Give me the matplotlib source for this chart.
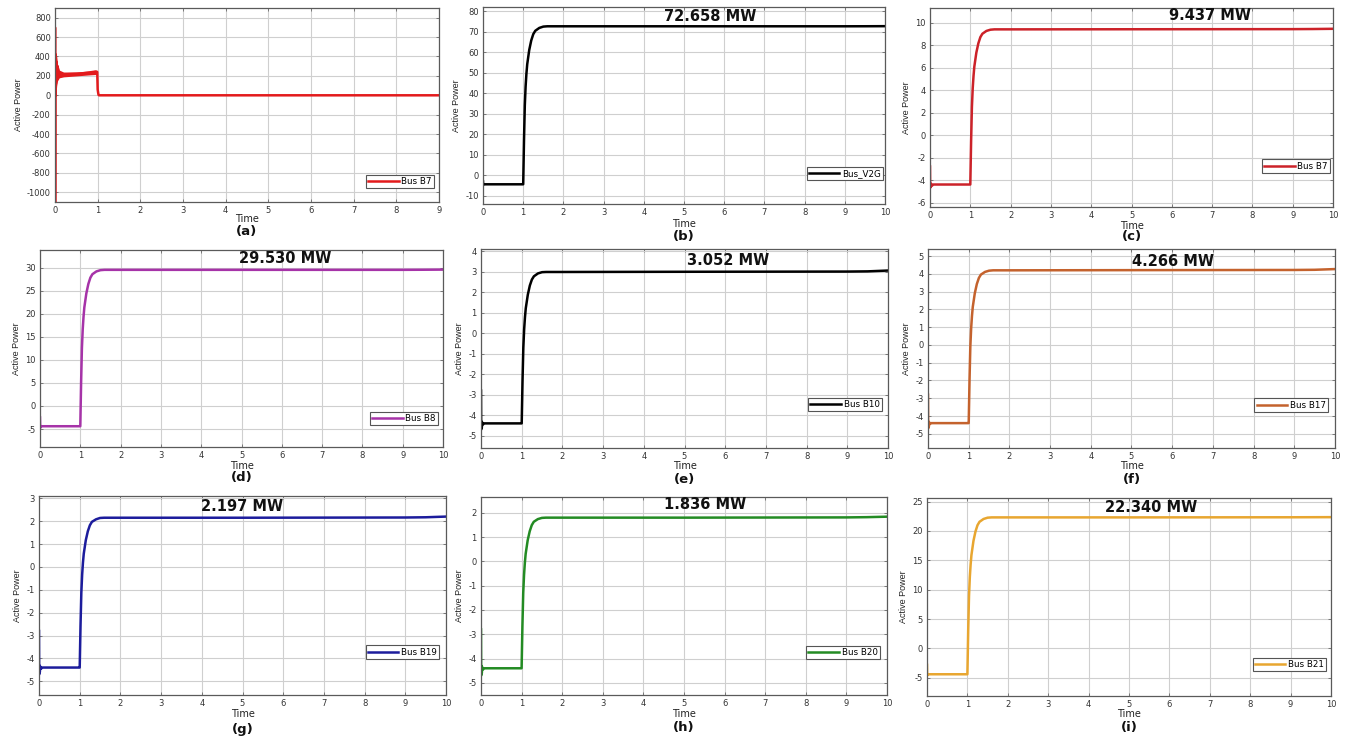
import matplotlib
matplotlib.use("Agg")
import matplotlib.pyplot as plt

plt.rcParams["axes.unicode_minus"] = False

# ---- data ----
# panel (a): Bus B7 (first case), 0..9 s
a_time = [0, 0.001, 0.003, 0.006, 0.01, 0.015, 0.02, 0.03, 0.04, 0.06, 0.1, 0.2, 0.4, 0.6,
          0.8, 0.95, 0.99, 1.0, 1.01, 1.02, 1.03, 1.05, 9.0]
a_power = [0, 700, -1100, 400, 100, 420, 120, 350, 160, 300, 200, 215, 220, 225,
           235, 245, 240, 60, 30, 5, 0, 0, 0]
# noisy band between 0 and 1 s
a_band_time = [0.02, 0.04, 0.06, 0.1, 0.2, 0.5, 0.8, 0.98]
a_band_low = [0, 100, 150, 180, 190, 200, 210, 215]
a_band_high = [420, 400, 320, 260, 240, 240, 250, 260]

# panels (b)..(i): common time grid
time = [0, 0.004, 0.01, 0.02, 0.03, 0.05, 0.08, 0.5, 0.99, 1.0, 1.02, 1.04, 1.06, 1.08, 1.1,
        1.15, 1.2, 1.25, 1.3, 1.4, 1.5, 1.6, 1.8, 2.0, 5.0, 9.0, 9.5, 10.0]

p_v2g = [-3.0, -4.5, -4.3, -4.5, -4.4, -4.4, -4.4, -4.4, -4.4, -4.4, 17.2, 34.1, 43.3, 49.5, 54.1,
         61.05, 65.7, 68.75, 70.4, 71.8, 72.45, 72.6, 72.6, 72.6, 72.6, 72.6, 72.62, 72.66]
p_b7 = [-2.8, -4.7, -4.3, -4.6, -4.35, -4.5, -4.4, -4.4, -4.4, -4.4, -0.54, 2.5, 4.16, 5.26, 6.09,
        7.33, 8.16, 8.71, 9.01, 9.26, 9.37, 9.4, 9.4, 9.4, 9.41, 9.42, 9.43, 9.45]
p_b8 = [-2.5, -4.8, -4.3, -4.5, -4.4, -4.4, -4.4, -4.4, -4.4, -4.4, 5.09, 12.55, 16.6, 19.33, 21.36,
        24.4, 26.45, 27.8, 28.55, 29.16, 29.43, 29.5, 29.5, 29.5, 29.5, 29.5, 29.52, 29.55]
p_b10 = [-2.8, -4.7, -4.3, -4.6, -4.35, -4.45, -4.4, -4.4, -4.4, -4.4, -2.33, -0.71, 0.18, 0.77, 1.21,
         1.87, 2.32, 2.61, 2.77, 2.91, 2.97, 2.98, 2.98, 2.98, 2.99, 3.0, 3.01, 3.05]
p_b17 = [-2.8, -4.7, -4.3, -4.6, -4.35, -4.45, -4.4, -4.4, -4.4, -4.4, -1.99, -0.1, 0.93, 1.62, 2.14,
         2.91, 3.43, 3.77, 3.96, 4.11, 4.18, 4.2, 4.2, 4.2, 4.21, 4.22, 4.23, 4.27]
p_b19 = [-2.8, -4.7, -4.3, -4.6, -4.35, -4.45, -4.4, -4.4, -4.4, -4.4, -2.57, -1.13, -0.34, 0.19, 0.58,
         1.17, 1.56, 1.82, 1.97, 2.08, 2.14, 2.15, 2.15, 2.15, 2.15, 2.16, 2.17, 2.2]
p_b20 = [-2.8, -4.7, -4.3, -4.6, -4.35, -4.45, -4.4, -4.4, -4.4, -4.4, -2.66, -1.3, -0.56, -0.06, 0.31,
         0.87, 1.24, 1.49, 1.63, 1.74, 1.79, 1.8, 1.8, 1.8, 1.8, 1.81, 1.82, 1.84]
p_b21 = [-2.8, -4.6, -4.4, -4.5, -4.4, -4.4, -4.4, -4.4, -4.4, -4.4, 3.08, 8.95, 12.15, 14.29, 15.89,
         18.3, 19.9, 20.97, 21.55, 22.03, 22.25, 22.3, 22.3, 22.3, 22.3, 22.32, 22.33, 22.34]

names = ["Bus_V2G", "Bus B7", "Bus B8", "Bus B10", "Bus B17", "Bus B19", "Bus B20", "Bus B21"]
series = [p_v2g, p_b7, p_b8, p_b10, p_b17, p_b19, p_b20, p_b21]
final_labels = ["72.658 MW", "9.437 MW", "29.530 MW", "3.052 MW", "4.266 MW",
                "2.197 MW", "1.836 MW", "22.340 MW"]
letters = ["(a)", "(b)", "(c)", "(d)", "(e)", "(f)", "(g)", "(h)", "(i)"]

# ---- styling / layout ----
colors = ["black", "#cc2229", "#a633a8", "black", "#c4622d", "#1c1c9c", "#238b23", "#e8a630"]
# axes boxes in pixels (left, top, right, bottom)
boxes = [(55, 8, 439, 202), (483, 7, 885, 204), (930, 8, 1333, 207),
         (40, 250, 443, 447), (481, 249, 888, 448), (928, 249, 1335, 448),
         (39, 496, 446, 695), (481, 497, 887, 695), (927, 498, 1331, 696)]
ylims = [(-1100, 900), (-14, 82), (-6.4, 11.3), (-8.9, 33.8), (-5.6, 4.1),
         (-5.8, 5.4), (-5.6, 3.1), (-5.5, 2.65), (-8.1, 25.6)]
yticks = [range(-1000, 801, 200), range(-10, 81, 10), range(-6, 11, 2), range(-5, 31, 5),
          range(-5, 5), range(-5, 6), range(-5, 4), range(-5, 3), range(-5, 26, 5)]
note_pos = [None, (5.65, 77.2), (6.95, 10.65), (6.08, 32.0), (6.07, 3.56),
            (6.02, 4.72), (5.0, 2.64), (5.53, 2.34), (5.54, 23.98)]
leg_anchor = [(0.987, 0.072), (0.995, 0.122), (0.993, 0.172), (0.988, 0.112), (0.985, 0.184),
              (0.983, 0.182), (0.983, 0.182), (0.982, 0.182), (0.988, 0.125)]
time_y = [219, 224, 226, 466, 466, 466, 714, 714, 714]
letter_y = [232, 237, 237, 478, 480, 480, 729, 728, 728]

W, H = 1352, 740
fig = plt.figure(figsize=(W / 100, H / 100), dpi=100)
fig.patch.set_facecolor("white")

for k in range(9):
    l, t, r, b = boxes[k]
    ax = fig.add_axes([l / W, 1 - b / H, (r - l) / W, (b - t) / H])
    if k == 0:
        ax.fill_between(a_band_time, a_band_low, a_band_high, color="#e31a1c", lw=0)
        ax.plot(a_time, a_power, color="#e31a1c", lw=1.8, label="Bus B7")
        ax.set_xlim(0, 9)
        ax.set_xticks(range(0, 10))
    else:
        ax.plot(time, series[k - 1], color=colors[k - 1], lw=1.8, label=names[k - 1])
        ax.set_xlim(0, 10)
        ax.set_xticks(range(0, 11))
        ax.text(note_pos[k][0], note_pos[k][1], final_labels[k - 1], ha="center", va="center",
                fontsize=10.5, fontweight="bold", family="DejaVu Sans", color="#111111")
    ax.set_ylim(*ylims[k])
    ax.set_yticks(list(yticks[k]))
    ax.grid(True, color="#cfcfcf", lw=0.8)
    ax.set_axisbelow(True)
    for s in ax.spines.values():
        s.set_color("#5a5a5a")
        s.set_linewidth(0.9)
    ax.tick_params(direction="in", top=True, right=True, length=2.5, width=0.6,
                   labelsize=6, colors="#6a6a6a", labelcolor="#333333", pad=3)
    ax.set_ylabel("Active Power", fontsize=6.5, family="Liberation Sans", color="#222222",
                  labelpad=3)
    leg = ax.legend(loc="lower right", bbox_to_anchor=leg_anchor[k], fontsize=6.3,
                    fancybox=False, framealpha=1, edgecolor="#555555", borderpad=0.25,
                    handlelength=3.5, handletextpad=0.3, borderaxespad=0)
    leg.get_frame().set_linewidth(0.8)
    cx = (l + r) / 2
    fig.text(cx / W, 1 - time_y[k] / H, "Time", ha="center", va="center", fontsize=7,
             color="#222222")
    fig.text(cx / W, 1 - letter_y[k] / H, letters[k], ha="center", va="center", fontsize=9.5,
             fontweight="bold", family="DejaVu Sans", color="#111111")

fig.savefig("out.png", dpi=100)
